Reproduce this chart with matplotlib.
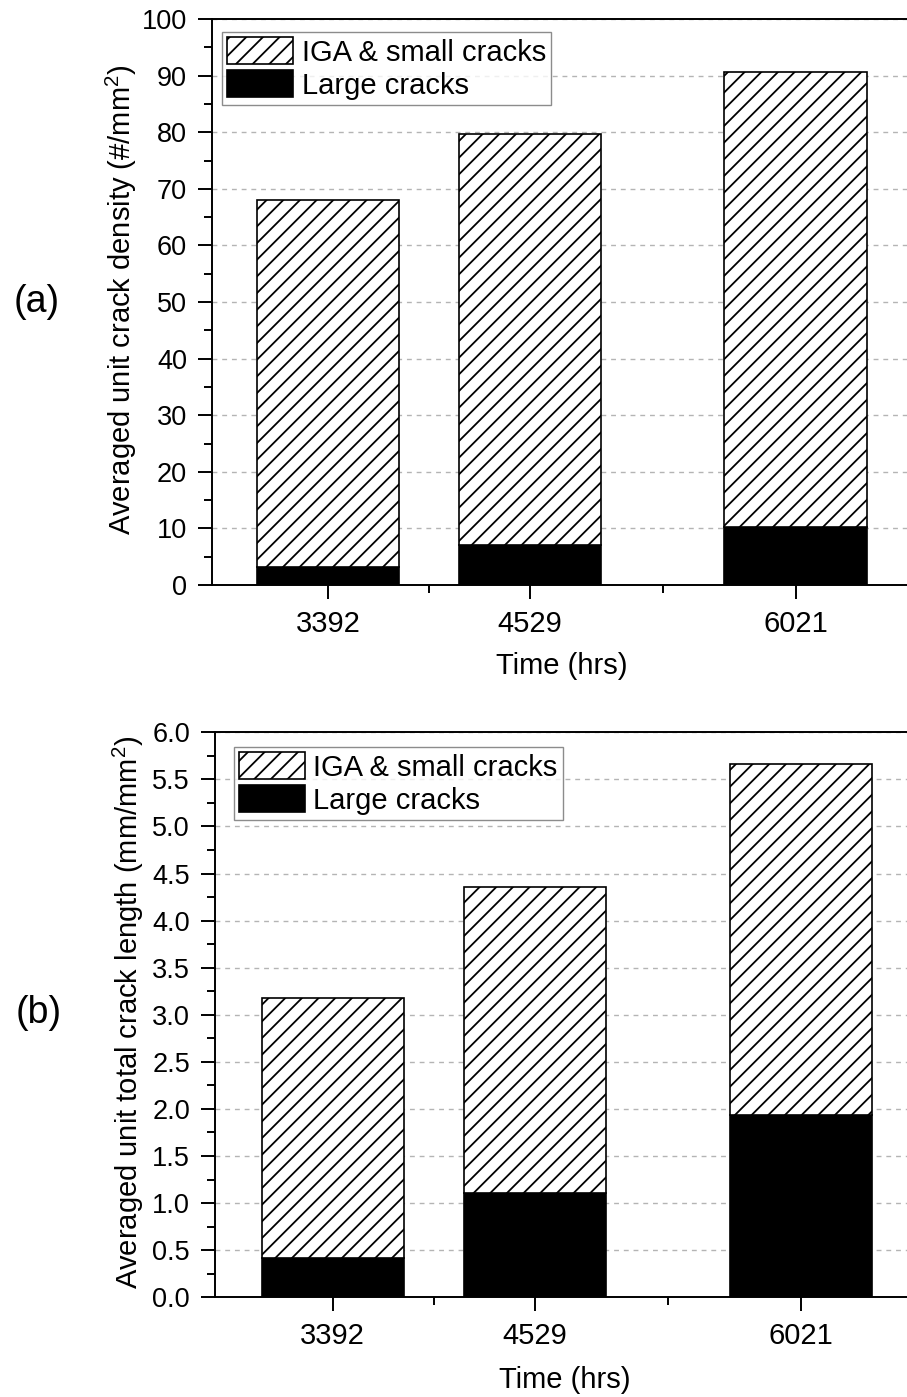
import matplotlib
matplotlib.use("Agg")
import matplotlib.pyplot as plt
from matplotlib.ticker import FixedLocator, MultipleLocator

plt.rcParams["font.family"] = ["Liberation Sans", "DejaVu Sans"]
plt.rcParams["mathtext.fontset"] = "custom"
plt.rcParams["mathtext.rm"] = "Liberation Sans"
plt.rcParams["mathtext.default"] = "regular"
plt.rcParams["hatch.linewidth"] = 1.3

# Inspection times (hrs)
times = [3392, 4529, 6021]
time_labels = ["3392", "4529", "6021"]
minor_times = [3960.5, 5275]

# (a) averaged unit crack density (#/mm^2)
density_large = [3.2, 7.0, 10.2]
density_iga_small = [64.9, 72.7, 80.5]

# (b) averaged unit total crack length (mm/mm^2)
length_large = [0.42, 1.11, 1.94]
length_iga_small = [2.76, 3.25, 3.72]

series_names = ["IGA & small cracks", "Large cracks"]

BAR_WIDTH = 800
FS = 21


def draw_panel(ax, large, iga, ylim, major, minor, ylabel, ylabel_x, legend_anchor,
               xlabel_y, tick_fmt):
    ax.set_axisbelow(True)
    ax.yaxis.grid(True, linestyle=(0, (3.5, 3.5)), color="#b4b4b4", linewidth=1.0)
    ax.bar(times, large, width=BAR_WIDTH, color="black", edgecolor="black",
           linewidth=1.2, label=series_names[1])
    ax.bar(times, iga, width=BAR_WIDTH, bottom=large, color="white",
           edgecolor="black", hatch="//", linewidth=1.2, label=series_names[0])

    ax.set_ylim(*ylim)
    ax.yaxis.set_major_locator(MultipleLocator(major))
    ax.yaxis.set_minor_locator(MultipleLocator(minor))
    ax.yaxis.set_major_formatter(tick_fmt)
    ax.xaxis.set_major_locator(FixedLocator(times))
    ax.xaxis.set_minor_locator(FixedLocator(minor_times))
    ax.set_xticklabels(time_labels)

    for s in ax.spines.values():
        s.set_linewidth(1.4)
    ax.tick_params(axis="both", which="major", direction="out", length=10,
                   width=1.4, pad=8)
    ax.tick_params(axis="both", which="minor", direction="out", length=5.5,
                   width=1.4)
    ax.tick_params(axis="x", which="major", labelsize=FS)
    ax.tick_params(axis="y", which="major", labelsize=19.5)

    ax.set_ylabel(ylabel, fontsize=FS)
    ax.yaxis.set_label_coords(ylabel_x, 0.505)
    ax.set_xlabel("Time (hrs)", fontsize=FS, va="top")
    ax.xaxis.set_label_coords(0.5, xlabel_y)

    handles, labels = ax.get_legend_handles_labels()
    leg = ax.legend(handles[::-1], labels[::-1], loc="upper left",
                    bbox_to_anchor=legend_anchor, borderaxespad=0,
                    fontsize=FS, frameon=True, fancybox=False,
                    handlelength=2.25, handleheight=1.05, handletextpad=0.3,
                    labelspacing=0.12, borderpad=0.18)
    leg.get_frame().set_edgecolor("#707070")
    leg.get_frame().set_linewidth(1.0)


fig = plt.figure(figsize=(9.07, 13.97), dpi=100)

ax_a = fig.add_axes([0.2337, 0.5812, 0.7707, 0.4052])
ax_a.set_xlim(2740, 6670)
draw_panel(ax_a, density_large, density_iga_small, (0, 100), 10, 5,
           "Averaged unit crack density (#/mm$^2$)", -0.104, (0.0143, 0.977),
           -0.118, "{x:.0f}")

ax_b = fig.add_axes([0.2370, 0.0714, 0.7712, 0.4044])
ax_b.set_xlim(2730, 6660)
draw_panel(ax_b, length_large, length_iga_small, (0, 6.0), 0.5, 0.25,
           "Averaged unit total crack length (mm/mm$^2$)", -0.098, (0.027, 0.974),
           -0.122, "{x:.1f}")

fig.text(0.040, 1 - 302 / 1397, "(a)", fontsize=27, ha="center", va="center")
fig.text(0.043, 1 - 1013 / 1397, "(b)", fontsize=27, ha="center", va="center")

fig.savefig("out.png", dpi=100)
